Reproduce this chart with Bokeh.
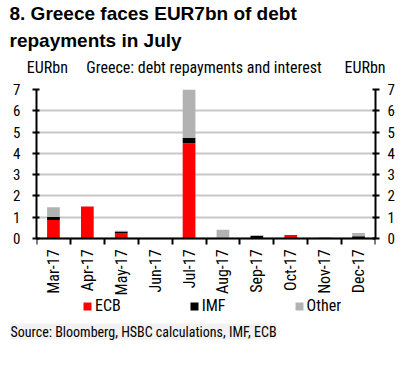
import math
from bokeh.plotting import figure
from bokeh.models import (ColumnDataSource, FixedTicker, LinearAxis, Legend, LegendItem, Title)
from bokeh.core.properties import value
from bokeh.embed import file_html
from bokeh.resources import INLINE

months = ["Mar-17", "Apr-17", "May-17", "Jun-17", "Jul-17", "Aug-17", "Sep-17", "Oct-17", "Nov-17", "Dec-17"]
ecb = [0.87, 1.50, 0.25, 0.00, 4.47, 0.00, 0.00, 0.16, 0.00, 0.00]
imf = [0.13, 0.00, 0.08, 0.00, 0.26, 0.00, 0.12, 0.00, 0.00, 0.10]
other = [0.47, 0.00, 0.03, 0.02, 2.27, 0.41, 0.02, 0.00, 0.06, 0.15]
y_ticks = [0, 1, 2, 3, 4, 5, 6, 7]
head_ticks = [0.32, 4.94, 9.69]
head_texts = ["EURbn", "Greece: debt repayments and interest", "EURbn"]

NARROW = "Roboto Condensed"
BOLD = "Liberation Sans"
xs = [i + 0.5 for i in range(len(months))]
src = ColumnDataSource(dict(x=xs, ecb=ecb, imf=imf, other=other, month=months))

# frame extends below zero so that the month labels and legend sit inside it
p = figure(width=403, height=358, x_range=(0, len(months)), y_range=(-3.86, 7.0),
           output_backend="svg", toolbar_location=None, title=None,
           min_border_left=36, min_border_right=28, min_border_top=85, min_border_bottom=38)
p.outline_line_color = None

rs = p.vbar_stack(["ecb", "imf", "other"], x="x", width=0.375, source=src,
                  color=["#ff0000", "#000000", "#b2b2b2"], line_color=None)

p.xgrid.visible = False
p.ygrid.ticker = FixedTicker(ticks=y_ticks)
p.ygrid.grid_line_color = "#c8c8c8"
p.ygrid.grid_line_width = 2

# x axis drawn at y = 0, ticks at the category boundaries
xa = p.xaxis[0]
xa.fixed_location = 0
xa.ticker = FixedTicker(ticks=[], minor_ticks=list(range(len(months) + 1)))
xa.major_tick_line_color = None
xa.major_tick_in = 0
xa.major_tick_out = 0
xa.minor_tick_in = 0
xa.minor_tick_out = 6
xa.minor_tick_line_width = 2
xa.minor_tick_line_color = "black"
xa.axis_line_width = 2
xa.major_label_standoff = 0

# month labels, reading upwards, under each bar
p.text(x="x", y=0, text="month", source=src, angle=math.pi / 2, y_offset=11,
       text_align="right", text_baseline="middle", text_font=value(NARROW),
       text_font_size="16px", text_color="black")

def style_y(ax, standoff):
    ax.ticker = FixedTicker(ticks=y_ticks)
    ax.bounds = (0, 7)
    ax.minor_tick_line_color = None
    ax.major_tick_in = 3
    ax.major_tick_out = 4
    ax.major_tick_line_width = 2
    ax.axis_line_width = 2
    ax.major_label_standoff = standoff
    ax.major_label_text_font = NARROW
    ax.major_label_text_font_size = "15px"
    ax.major_label_text_color = "black"

style_y(p.yaxis[0], 12)
ra = LinearAxis()
style_y(ra, 8)
p.add_layout(ra, "right")

# header row (units + subtitle) as an axis above the frame
ha = LinearAxis(ticker=FixedTicker(ticks=head_ticks),
                major_label_overrides={t: s for t, s in zip(head_ticks, head_texts)})
ha.axis_line_color = None
ha.major_tick_line_color = None
ha.minor_tick_line_color = None
ha.major_tick_in = 0
ha.major_tick_out = 0
ha.major_label_standoff = 13
ha.major_label_text_font = NARROW
ha.major_label_text_font_size = "16px"
ha.major_label_text_color = "black"
p.add_layout(ha, "above")

t2 = Title(text="repayments in July", align="left", offset=-27, standoff=8,
           text_font=BOLD, text_font_size="19px", text_font_style="bold", text_color="black")
t1 = Title(text="8. Greece faces EUR7bn of debt", align="left", offset=-27, standoff=0,
           text_font=BOLD, text_font_size="19px", text_font_style="bold", text_color="black")
p.add_layout(t2, "above")
p.add_layout(t1, "above")

legend = Legend(items=[LegendItem(label="ECB", renderers=[rs[0]]),
                       LegendItem(label="IMF", renderers=[rs[1]]),
                       LegendItem(label="Other", renderers=[rs[2]])],
                orientation="horizontal", location=(46, 5),
                glyph_width=10, glyph_height=10, label_height=12, label_width=10,
                label_standoff=3, spacing=68, padding=0, margin=0,
                border_line_color=None, background_fill_alpha=0,
                label_text_font=NARROW, label_text_font_size="16px",
                label_text_color="black")
p.add_layout(legend, "center")

src_t = Title(text="Source: Bloomberg, HSBC calculations, IMF, ECB", align="left", offset=-26,
              standoff=2, text_font=NARROW, text_font_size="14px", text_font_style="normal",
              text_color="black", background_fill_color="#f2f2f2")
p.add_layout(src_t, "below")

open("out.html", "w").write(file_html(p, INLINE))
